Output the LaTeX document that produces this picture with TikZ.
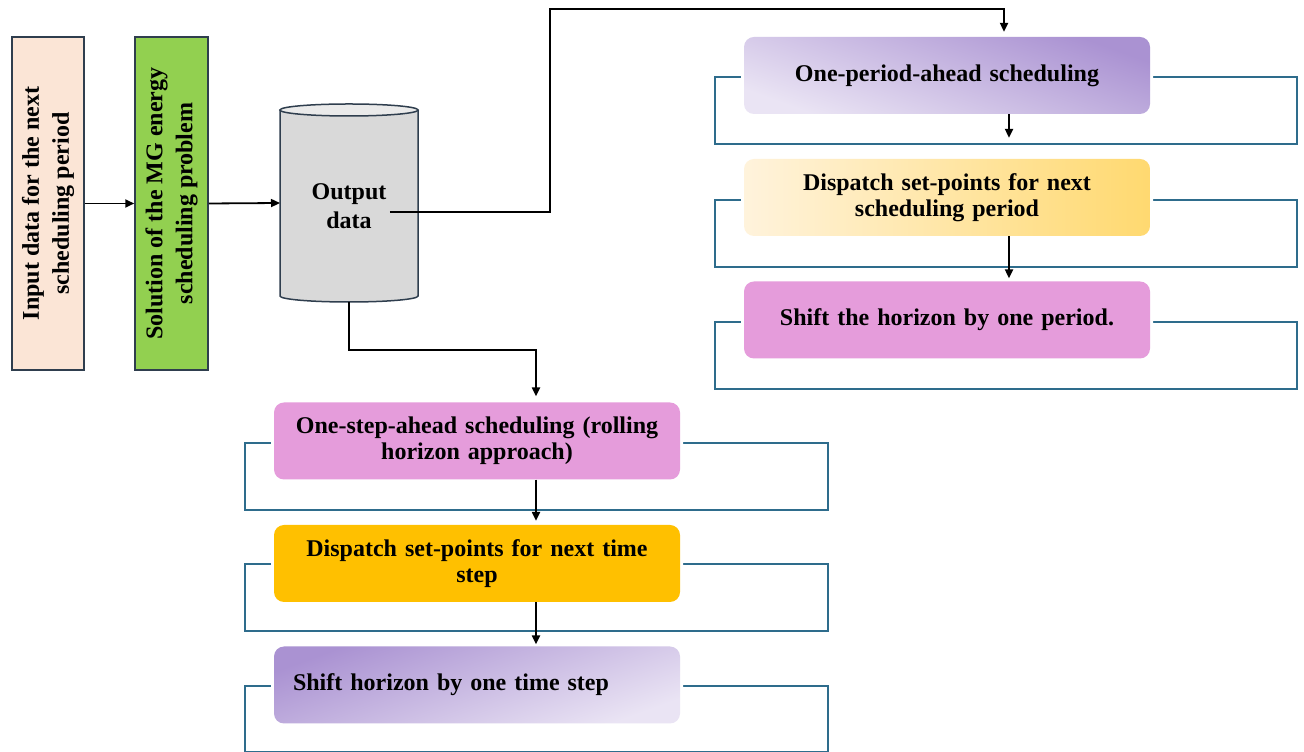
\documentclass[tikz,border=0pt]{standalone}
\usepackage{fontspec}
\setmainfont{Liberation Serif}
\usetikzlibrary{arrows.meta}
\definecolor{frameblue}{RGB}{46,108,140}
\definecolor{edgegray}{RGB}{47,62,78}
\definecolor{peach}{RGB}{251,229,214}
\definecolor{leaf}{RGB}{146,208,80}
\definecolor{drum}{RGB}{217,217,217}
\definecolor{drumtop}{RGB}{234,234,234}
\definecolor{orchid}{RGB}{229,156,219}
\definecolor{amber}{RGB}{255,192,0}
\definecolor{lavlight}{RGB}{234,228,244}
\definecolor{lavdark}{RGB}{170,146,210}
\definecolor{creamlight}{RGB}{255,243,220}
\definecolor{creamdark}{RGB}{255,217,112}

\begin{document}
\begin{tikzpicture}[x=1pt,y=1pt,
  every node/.style={font=\bfseries\fontsize{24}{26}\selectfont},
  sidebox/.style={draw=edgegray, line width=1.5pt, minimum width=72pt,
    minimum height=333pt, inner sep=0pt},
  sidetext/.style={rotate=90, align=center, inner sep=0pt,
    font=\bfseries\fontsize{24}{30}\selectfont},
  stagebox/.style={rounded corners=10pt, minimum width=406pt,
    minimum height=77pt, inner sep=4pt, align=center, text width=390pt,
    preaction={draw=white, line width=6pt}},
  loopframe/.style={draw=frameblue, line width=1.8pt, minimum width=582pt,
    minimum height=67pt, inner sep=0pt, anchor=north west},
  arr/.style={line width=2.2pt, -{Triangle[length=9pt,width=8pt]}},
  cyl/.style={draw=edgegray, line width=1.5pt}
]
\useasboundingbox (0,0) rectangle (1304,752);

% feedback frames behind the stage boxes
\node[loopframe] (f1) at (714,676) {};
\node[loopframe] (f2) at (714,553) {};
\node[loopframe] (f3) at (714,431) {};
\node[loopframe, minimum width=583pt] (f4) at (244,310) {};
\node[loopframe, minimum width=583pt] (f5) at (244,189) {};
\node[loopframe, minimum width=583pt, minimum height=66pt] (f6) at (244,67) {};

% one-period-ahead branch
\node[stagebox, bottom color=lavlight, top color=lavdark, shading angle=-20]
  (b1) at (947,676.5) {One-period-ahead scheduling};
\node[stagebox, left color=creamlight, right color=creamdark]
  (b2) at (947,554.5) {Dispatch set-points for next\\scheduling period};
\node[stagebox, fill=orchid]
  (b3) at (947,432) {Shift the horizon by one period.};

% one-step-ahead branch
\node[stagebox, fill=orchid]
  (b4) at (477,311) {One-step-ahead scheduling (rolling\\horizon approach)};
\node[stagebox, fill=amber]
  (b5) at (477,188.5) {Dispatch set-points for next time\\step};
\node[stagebox, bottom color=lavlight, top color=lavdark, shading angle=20,
  align=left, inner xsep=19pt, text width=368pt]
  (b6) at (477,67) {Shift horizon by one time step};

% input and solver blocks
\node[sidebox, fill=peach] (lb1) at (48,548.5) {};
\node[sidetext] (lt1) at (lb1.center) {Input data for the next\\scheduling period};
\node[sidebox, fill=leaf, minimum width=73pt] (lb2) at (171.5,548.5) {};
\node[sidetext] (lt2) at (lb2.center) {Solution of the MG energy\\scheduling problem};

% output data store
\fill[drum] (280,642) -- (280,456)
  arc[start angle=180, end angle=360, x radius=69, y radius=6]
  -- (418,642) arc[start angle=0, end angle=180, x radius=69, y radius=6] -- cycle;
\draw[cyl] (280,642) -- (280,456)
  arc[start angle=180, end angle=360, x radius=69, y radius=6] -- (418,642);
\draw[cyl, fill=drumtop] (349,642) ellipse [x radius=69, y radius=6];
\node[align=center, font=\bfseries\fontsize{24}{29}\selectfont] (od) at (349,546) {Output\\data};
\coordinate (cylw) at (280,549);
\coordinate (cylb) at (349,450);
\coordinate (topbend) at (550,743);
\coordinate (lowbend) at (349,402);

% connectors
\draw[arr, line width=1.8pt] (lb1.east) -- (lb2.west);
\draw[arr, line width=1.8pt] (lb2.east) -- (cylw);
\draw[arr] ([yshift=-6pt]od.east) -| (topbend) -| ([xshift=57pt,yshift=5pt]b1.north);
\draw[arr] (cylb) -- (lowbend) -| ([xshift=59pt,yshift=6pt]b4.north);

\draw[arr] ([xshift=62pt]b1.south) -- ([xshift=62pt,yshift=7pt]b1.south |- f1.south);
\draw[arr] ([xshift=62pt]b2.south) -- ([xshift=62pt,yshift=3pt]b3.north);
\draw[arr] ([xshift=59pt]b4.south) -- ([xshift=59pt,yshift=-10pt]b4.south |- f4.south);
\draw[arr] ([xshift=59pt]b5.south) -- ([xshift=59pt,yshift=2pt]b6.north);
\end{tikzpicture}
\end{document}
